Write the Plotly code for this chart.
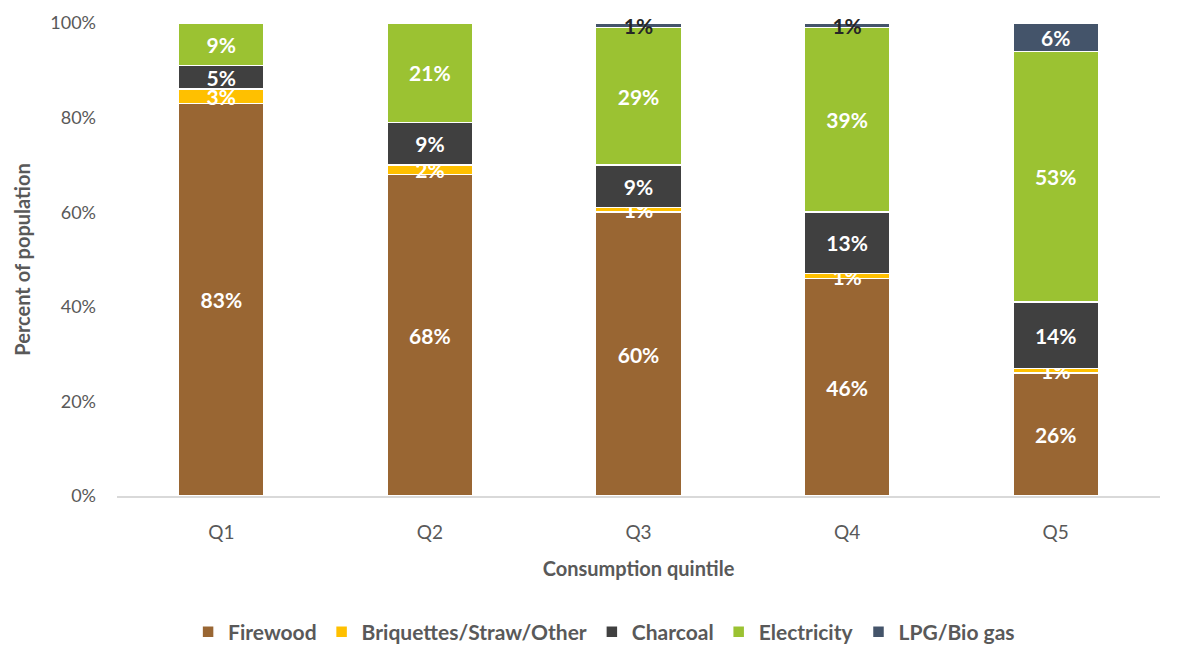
import plotly.graph_objects as go

# Share of population by main cooking fuel, per consumption quintile (percent)
quintiles = ["Q1", "Q2", "Q3", "Q4", "Q5"]
firewood = [83, 68, 60, 46, 26]
briquettes = [3, 2, 1, 1, 1]
charcoal = [5, 9, 9, 13, 14]
electricity = [9, 21, 29, 39, 53]
lpg_biogas = [0, 0, 1, 1, 6]

series = [
    ("Firewood", firewood, "#996633"),
    ("Briquettes/Straw/Other", briquettes, "#FFC000"),
    ("Charcoal", charcoal, "#404040"),
    ("Electricity", electricity, "#9BC232"),
    ("LPG/Bio gas", lpg_biogas, "#44546A"),
]

FONT = "Lato"
fig = go.Figure()
for name, vals, color in series:
    labels = [f"{v}%" if v > 0 else "" for v in vals]
    if name == "LPG/Bio gas":
        txt_colors = ["#262626" if v < 3 else "white" for v in vals]
    else:
        txt_colors = ["white"] * len(vals)
    fig.add_trace(go.Bar(
        name=name,
        x=quintiles,
        y=vals,
        marker=dict(color=color, line=dict(color="white", width=1.5)),
        text=labels,
        textposition="inside",
        insidetextanchor="middle",
        constraintext="none",
        textangle=0,
        textfont=dict(family=FONT, size=21, color=txt_colors, weight="bold"),
        cliponaxis=False,
        hoverinfo="skip",
    ))

fig.update_layout(
    barmode="stack",
    bargap=0.59,
    width=1177,
    height=645,
    margin=dict(l=117, r=17, t=23, b=149, autoexpand=False),
    plot_bgcolor="white",
    paper_bgcolor="white",
    font=dict(family=FONT, color="#595959", size=17),
    showlegend=True,
    legend=dict(
        orientation="h",
        x=0.467, xanchor="center", xref="paper",
        y=(645 - 632) / 645, yanchor="middle", yref="container",
        font=dict(family=FONT, size=21, color="#595959", weight="bold"),
        traceorder="normal",
        itemwidth=30,
    ),
    uniformtext=dict(mode=False),
)

fig.update_xaxes(
    showline=True,
    linecolor="#D9D9D9",
    linewidth=1.5,
    ticks="",
    ticklabelstandoff=18,
    tickfont=dict(family=FONT, size=19, color="#595959"),
    title=dict(text="Consumption quintile", standoff=20,
               font=dict(family=FONT, size=20, color="#595959", weight="bold")),
)
fig.update_yaxes(
    range=[0, 100],
    tickvals=[0, 20, 40, 60, 80, 100],
    ticktext=["0%", "20%", "40%", "60%", "80%", "100%"],
    showgrid=False,
    zeroline=False,
    showline=False,
    ticks="",
    ticklabelstandoff=20,
    tickfont=dict(family=FONT, size=18, color="#595959"),
    title=dict(text="Percent of population", standoff=14,
               font=dict(family=FONT, size=20, color="#595959", weight="bold")),
)

fig.write_html("out.html")
